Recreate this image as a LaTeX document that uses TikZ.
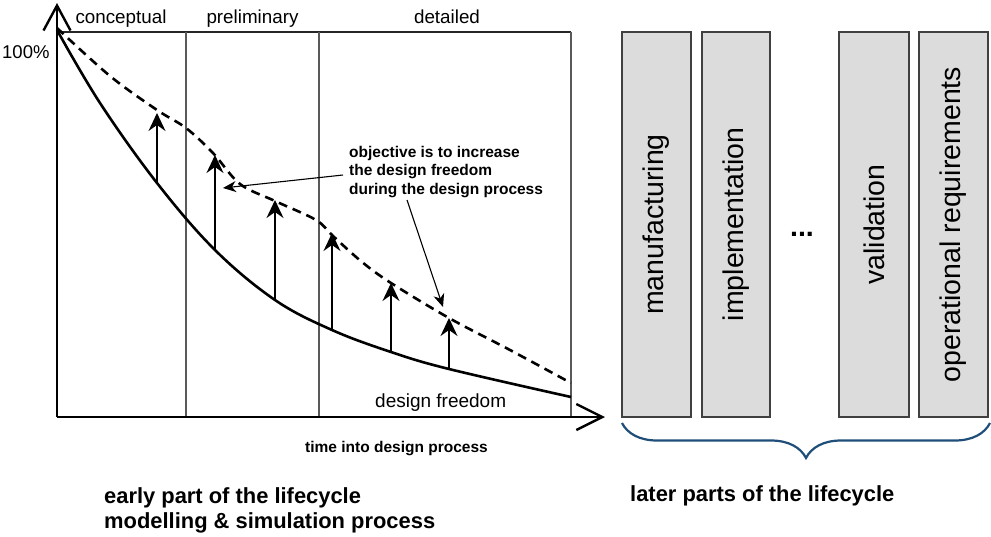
\documentclass[tikz,border=0pt]{standalone}
\usepackage{fontspec}
\setmainfont{Liberation Sans}
\usetikzlibrary{arrows.meta,decorations.pathreplacing}
\newcommand\pxfont[1]{\fontsize{#1pt}{#1pt}\selectfont}
\definecolor{boxfill}{HTML}{DCDCDC}
\definecolor{boxedge}{HTML}{404040}
\definecolor{bracecol}{HTML}{1F4E79}
\tikzset{
  axis/.style={line width=2.6pt, draw=black},
  sep/.style={line width=1.5pt, draw=black!65},
  lifebox/.style={draw=boxedge, line width=1.5pt, fill=boxfill, rotate=90,
    minimum width=385pt, minimum height=69pt, inner sep=0pt, font=\pxfont{28.5}},
  rise/.style={line width=1.4pt, -{Stealth[length=18pt,width=17pt,inset=6pt]}},
  notearrow/.style={line width=1.1pt, -{Stealth[length=13pt,width=11pt,inset=4pt]}},
  phase/.style={anchor=base, font=\pxfont{18.8}, inner sep=0pt},
  bigbold/.style={anchor=base west, inner sep=0pt, font=\bfseries\pxfont{21.9}},
}
\begin{document}
\begin{tikzpicture}[x=1pt,y=-1pt]
\useasboundingbox (0,0) rectangle (991,536);

% phase grid
\coordinate (o) at (57,417);
\draw[line width=1.3pt, black!85] (57,32) -- (571,32);
\draw[sep] (186,32) -- (186,417);
\draw[sep] (319,32) -- (319,417);
\draw[sep] (571,32) -- (571,417);

% axes
\draw[axis, -{Straight Barb[length=25pt,width=27pt,line width=2.4pt]}] (o) -- (57,3);
\draw[axis, -{Straight Barb[length=26pt,width=26pt,line width=2.4pt]}] (o) -- (605,417);

% phase labels
\node[phase] (conc) at (121,23) {conceptual};
\node[phase] (prel) at (252.5,23) {preliminary};
\node[phase] (detl) at (447,23) {detailed};
\node[anchor=base west, inner sep=0pt, font=\pxfont{18.5}] (hundred) at (2,58) {100\%};

% design freedom curve
\draw[line width=2.6pt, black] plot[smooth, tension=0.6] coordinates
  {(57,30) (100,103) (157,183) (215,250) (275,300) (332,330) (391,352) (449,369) (571,397)};

% targeted design freedom curve
\draw[line width=2.6pt, black, dash pattern=on 9pt off 6pt] plot[smooth, tension=0.55] coordinates
  {(57,28) (110,76) (157,110) (186,128) (213,153) (240,184) (275,201) (316,220) (333,236)
   (362,262) (391,283) (449,318) (510,350) (571,383)};

% arrows lifting the curve
\foreach \x/\lo/\hi [count=\i] in {157/183/113, 215/250/155, 275/300/200, 332/330/233, 391/352/283, 449/369/318} {
  \coordinate (b\i) at (\x,\lo);
  \coordinate (t\i) at (\x,\hi);
  \draw[rise] (b\i) -- (t\i);
}

\node[anchor=base west, inner sep=0pt, font=\pxfont{19}] (df) at (375,407) {design freedom};

% annotation
\node[anchor=north west, inner sep=0pt, align=left, font=\bfseries\fontsize{15.5pt}{18.5pt}\selectfont] (obj) at (349,146)
  {objective is to increase\\the design freedom\\during the design process};
\coordinate (n1s) at (343,175);
\coordinate (n1e) at (223,188);
\coordinate (n2s) at (407,200);
\coordinate (n2e) at (443,307);
\draw[notearrow] (n1s) -- (n1e);
\draw[notearrow] (n2s) -- (n2e);

\node[anchor=base west, inner sep=0pt, font=\bfseries\pxfont{15.5}] (time) at (305,452) {time into design process};

% later lifecycle phases
\node[lifebox] (m) at (656.5,224.5) {manufacturing};
\node[lifebox, minimum height=68pt] (i) at (736,224.5) {implementation};
\node[anchor=base, inner sep=0pt, font=\bfseries\pxfont{28.5}] (dots) at (802,236) {...};
\node[lifebox, minimum height=70pt] (v) at (874,224.5) {validation};
\node[lifebox] (op) at (953.5,224.5) {operational requirements};

\coordinate (brL) at (622,423);
\coordinate (brR) at (990,423);
\draw[bracecol, line width=2.2pt, decorate, decoration={brace, mirror, amplitude=35pt}] (brL) -- (brR);

% captions
\node[bigbold] (early) at (104,503) {early part of the lifecycle};
\node[bigbold] (msp) at (104,528) {modelling \& simulation process};
\node[bigbold] (later) at (630,501) {later parts of the lifecycle};
\end{tikzpicture}
\end{document}
